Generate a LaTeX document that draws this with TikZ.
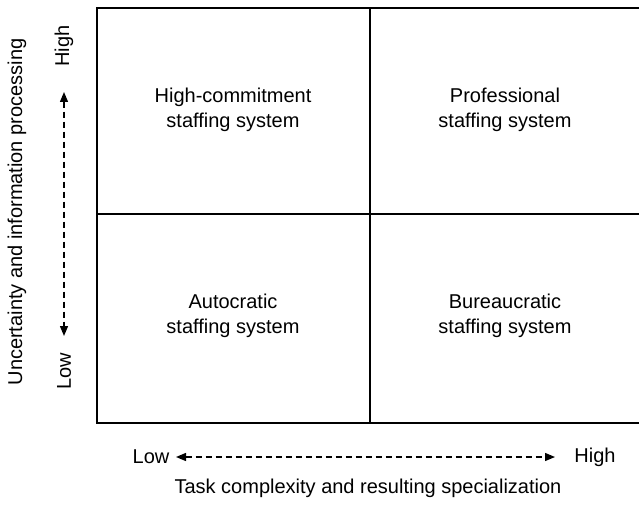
\documentclass[tikz,border=0pt]{standalone}
\usepackage{fontspec}
\setmainfont{Liberation Sans}
\usetikzlibrary{arrows.meta}
\begin{document}
\begin{tikzpicture}[x=1pt,y=-1pt,
  grid/.style={line width=1.7pt},
  quad/.style={align=center,font=\fontsize{20}{25}\selectfont,inner sep=0pt},
  lab/.style={font=\fontsize{20}{23}\selectfont,inner sep=0pt},
  axarrow/.style={dash pattern=on 6pt off 4pt,line width=1.3pt,{Triangle[length=10pt,width=8pt]}-{Triangle[length=10pt,width=8pt]}}]
\useasboundingbox (0,0) rectangle (639,508);
\coordinate (tl) at (97,8);
\coordinate (tr) at (639,8);
\coordinate (bl) at (97,423);
\coordinate (br) at (639,423);
\coordinate (mt) at (370,8);
\coordinate (mb) at (370,423);
\coordinate (ml) at (97,214);
\coordinate (mr) at (639,214);
\draw[grid] (tr) -- (tl) -- (bl) -- (br);
\draw[grid] (mt) -- (mb);
\draw[grid] (ml) -- (mr);
\node[quad] (q1) at (233,110) {High-commitment\\staffing system};
\node[quad] (q2) at (505,110) {Professional\\staffing system};
\node[quad] (q3) at (233,316) {Autocratic\\staffing system};
\node[quad] (q4) at (505,316) {Bureaucratic\\staffing system};
\node[lab,rotate=90] (ylab) at (17,212) {Uncertainty and information processing};
\node[lab,rotate=90] (yhigh) at (64,46) {High};
\node[lab,rotate=90] (ylow) at (64,371) {Low};
\coordinate (ya) at (64,92);
\coordinate (yb) at (64,336);
\draw[axarrow] (ya) -- (yb);
\node[lab] (xlow) at (151,457) {Low};
\node[lab] (xhigh) at (595,457) {High};
\coordinate (xa) at (176,457);
\coordinate (xb) at (555,457);
\draw[axarrow] (xa) -- (xb);
\node[lab] (xlab) at (368,488) {Task complexity and resulting specialization};
\end{tikzpicture}
\end{document}
